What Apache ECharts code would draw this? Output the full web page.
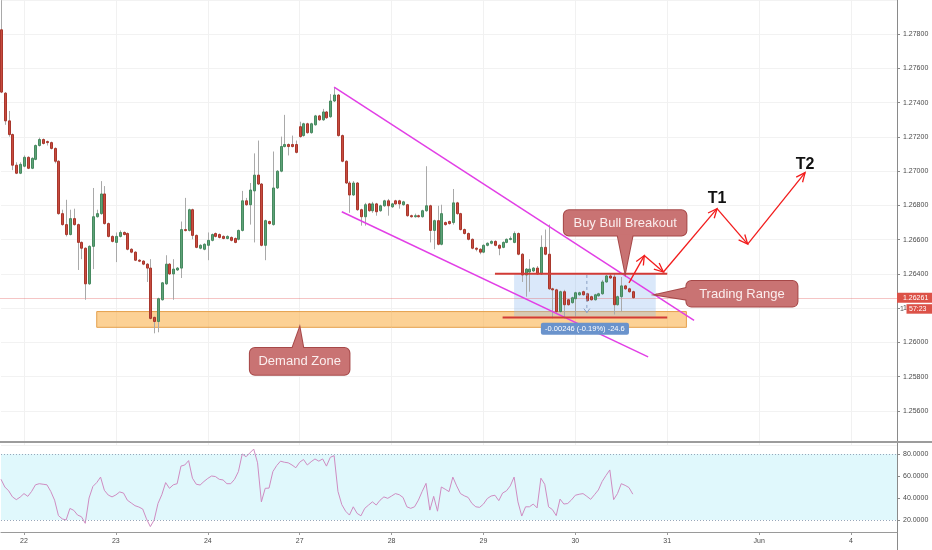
<!DOCTYPE html>
<html><head><meta charset="utf-8">
<script src="https://cdn.jsdelivr.net/npm/echarts@6/dist/echarts.min.js"></script>
<style>html,body{margin:0;padding:0;background:#fff}#c{width:932px;height:550px}</style>
</head><body><div id="c"></div>
<script>
// ---- time axis (hourly slots, incl. future space) ----
const slotCount = 235;
const dayIndex  = [6, 30, 54, 78, 102, 126, 150, 174, 198, 222];
const dayLabels = ['22', '23', '24', '27', '28', '29', '30', '31', 'Jun', '4'];
// ---- hourly candles [open, close, low, high] ----
const ohlc = [
[1.27826,1.27462,1.27456,1.27999],[1.27456,1.27294,1.27271,1.27462],[1.27294,1.27214,1.27202,1.27352],[1.27214,1.27035,1.27006,1.27220],
[1.27035,1.26988,1.26983,1.27052],[1.26988,1.27040,1.26983,1.27052],[1.27029,1.27081,1.27023,1.27092],[1.27081,1.27017,1.27012,1.27087],
[1.27017,1.27075,1.27012,1.27081],[1.27069,1.27150,1.27064,1.27156],[1.27150,1.27185,1.27144,1.27196],[1.27185,1.27162,1.27156,1.27191],
[1.27173,1.27167,1.27150,1.27179],[1.27167,1.27133,1.27127,1.27173],[1.27133,1.27058,1.27046,1.27139],[1.27058,1.26752,1.26746,1.27064],
[1.26752,1.26688,1.26682,1.26775],[1.26688,1.26630,1.26619,1.26833],[1.26630,1.26723,1.26625,1.26775],[1.26723,1.26688,1.26682,1.26781],
[1.26688,1.26584,1.26423,1.26694],[1.26584,1.26550,1.26486,1.26590],[1.26550,1.26342,1.26249,1.26555],[1.26342,1.26561,1.26336,1.26567],
[1.26561,1.26734,1.26428,1.26902],[1.26734,1.26752,1.26729,1.26775],[1.26752,1.26867,1.26746,1.26942],[1.26867,1.26694,1.26688,1.26913],
[1.26694,1.26619,1.26613,1.26700],[1.26619,1.26590,1.26584,1.26625],[1.26584,1.26619,1.26469,1.26642],[1.26619,1.26642,1.26613,1.26654],
[1.26642,1.26630,1.26625,1.26648],[1.26636,1.26544,1.26538,1.26642],[1.26544,1.26527,1.26521,1.26550],[1.26527,1.26480,1.26475,1.26532],
[1.26480,1.26475,1.26469,1.26486],[1.26475,1.26457,1.26451,1.26480],[1.26457,1.26434,1.26353,1.26463],[1.26434,1.26140,1.26134,1.26486],
[1.26146,1.26122,1.26053,1.26151],[1.26122,1.26255,1.26059,1.26261],[1.26249,1.26348,1.26244,1.26353],[1.26342,1.26457,1.26336,1.26509],
[1.26457,1.26400,1.26394,1.26463],[1.26400,1.26428,1.26249,1.26486],[1.26423,1.26434,1.26417,1.26440],[1.26434,1.26659,1.26376,1.26706],
[1.26659,1.26654,1.26648,1.26844],[1.26654,1.26775,1.26648,1.26781],[1.26775,1.26625,1.26602,1.26781],[1.26625,1.26555,1.26550,1.26630],
[1.26550,1.26567,1.26544,1.26573],[1.26544,1.26573,1.26538,1.26579],[1.26567,1.26596,1.26480,1.26642],[1.26596,1.26630,1.26590,1.26636],
[1.26636,1.26619,1.26613,1.26642],[1.26630,1.26613,1.26607,1.26636],[1.26619,1.26607,1.26602,1.26625],[1.26607,1.26619,1.26602,1.26625],
[1.26613,1.26596,1.26590,1.26619],[1.26607,1.26584,1.26579,1.26613],[1.26602,1.26654,1.26596,1.26659],[1.26654,1.26827,1.26648,1.26885],
[1.26827,1.26804,1.26798,1.26844],[1.26804,1.26890,1.26688,1.26931],[1.26885,1.26977,1.26584,1.27104],[1.26977,1.26925,1.26919,1.27179],
[1.26925,1.26567,1.26561,1.26931],[1.26567,1.26711,1.26480,1.26717],[1.26706,1.26694,1.26688,1.26711],[1.26688,1.26902,1.26682,1.27115],
[1.26902,1.27000,1.26896,1.27006],[1.27000,1.27144,1.26994,1.27202],[1.27144,1.27156,1.27139,1.27329],[1.27156,1.27144,1.27092,1.27162],
[1.27156,1.27144,1.27139,1.27208],[1.27156,1.27110,1.27104,1.27179],[1.27260,1.27202,1.27196,1.27289],[1.27208,1.27277,1.27202,1.27283],
[1.27277,1.27225,1.27219,1.27283],[1.27225,1.27277,1.27219,1.27283],[1.27271,1.27323,1.27266,1.27329],[1.27323,1.27300,1.27294,1.27329],
[1.27300,1.27346,1.27294,1.27364],[1.27346,1.27312,1.27306,1.27352],[1.27318,1.27410,1.27312,1.27450],[1.27410,1.27445,1.27404,1.27491],
[1.27445,1.27208,1.27202,1.27450],[1.27208,1.27058,1.27052,1.27214],[1.27058,1.26931,1.26925,1.27064],[1.26931,1.26861,1.26757,1.26942],
[1.26861,1.26931,1.26856,1.26942],[1.26931,1.26775,1.26769,1.26937],[1.26775,1.26734,1.26682,1.26781],[1.26734,1.26804,1.26682,1.26815],
[1.26809,1.26769,1.26763,1.26815],[1.26769,1.26809,1.26757,1.26821],[1.26809,1.26763,1.26740,1.26815],[1.26769,1.26798,1.26763,1.26804],
[1.26798,1.26827,1.26792,1.26833],[1.26827,1.26798,1.26740,1.26838],[1.26792,1.26809,1.26786,1.26815],[1.26827,1.26809,1.26804,1.26833],
[1.26827,1.26809,1.26781,1.26833],[1.26804,1.26821,1.26798,1.26827],[1.26804,1.26740,1.26734,1.26809],[1.26740,1.26734,1.26729,1.26746],
[1.26734,1.26740,1.26729,1.26752],[1.26740,1.26734,1.26729,1.26746],[1.26734,1.26769,1.26729,1.26775],[1.26769,1.26798,1.26763,1.27029],
[1.26798,1.26654,1.26584,1.26804],[1.26654,1.26711,1.26544,1.26717],[1.26711,1.26573,1.26567,1.26798],[1.26573,1.26752,1.26567,1.26804],
[1.26700,1.26688,1.26682,1.26706],[1.26706,1.26694,1.26688,1.26711],[1.26700,1.26815,1.26688,1.26896],[1.26815,1.26752,1.26746,1.26821],
[1.26752,1.26659,1.26654,1.26757],[1.26659,1.26636,1.26630,1.26665],[1.26636,1.26602,1.26596,1.26642],[1.26602,1.26550,1.26544,1.26607],
[1.26550,1.26544,1.26532,1.26555],[1.26544,1.26527,1.26515,1.26550],[1.26527,1.26567,1.26521,1.26573],[1.26567,1.26579,1.26561,1.26584],
[1.26579,1.26590,1.26573,1.26596],[1.26590,1.26567,1.26561,1.26596],[1.26567,1.26550,1.26509,1.26573],[1.26555,1.26584,1.26550,1.26590],
[1.26584,1.26602,1.26579,1.26607],[1.26602,1.26607,1.26596,1.26619],[1.26584,1.26636,1.26579,1.26648],[1.26636,1.26515,1.26509,1.26642],
[1.26515,1.26394,1.26353,1.26521],[1.26394,1.26428,1.26267,1.26434],[1.26411,1.26428,1.26296,1.26486],[1.26417,1.26434,1.26411,1.26440],
[1.26434,1.26400,1.26394,1.26446],[1.26400,1.26555,1.26394,1.26625],[1.26555,1.26515,1.26509,1.26659],[1.26515,1.26313,1.26307,1.26688],
[1.26313,1.26307,1.26140,1.26319],[1.26307,1.26180,1.26169,1.26313],[1.26180,1.26296,1.26174,1.26302],[1.26296,1.26220,1.26140,1.26307],
[1.26249,1.26220,1.26215,1.26255],[1.26232,1.26261,1.26226,1.26267],[1.26255,1.26290,1.26151,1.26296],[1.26278,1.26290,1.26273,1.26296],
[1.26296,1.26278,1.26273,1.26302],[1.26284,1.26244,1.26238,1.26290],[1.26267,1.26249,1.26244,1.26273],[1.26249,1.26278,1.26244,1.26284],
[1.26272,1.26284,1.26267,1.26290],[1.26284,1.26353,1.26278,1.26365],[1.26353,1.26388,1.26348,1.26394],[1.26388,1.26376,1.26370,1.26400],
[1.26382,1.26220,1.26163,1.26400],[1.26220,1.26267,1.26215,1.26273],[1.26267,1.26330,1.26180,1.26382],[1.26330,1.26313,1.26307,1.26336],
[1.26313,1.26296,1.26290,1.26319],[1.26296,1.26261,1.26255,1.26302]
];
// ---- RSI per candle ----
const rsi = [57,50,46.5,41,38.5,40.8,44,41.5,46,52,53,52.5,52,46,38,24,21,20,30.5,28.8,
24.5,23,17,40,50.5,54,59,47,42.7,41,42.8,45.5,44.5,38,35.5,33,31.8,30,21,14,
20,35,43,54,48.8,52,53,69,70,74,58,52.5,51.8,55,57.8,60,59.5,57,56.4,53,
53,57,64,80,77.5,81,84.5,72,36.5,48.8,49,64,69.5,73.5,72.5,72,70,67.5,72.5,75,
70,73,75.5,73.5,75.5,69,77,78.5,46,34,28,24.5,32,26,23.8,30.6,33.6,36.5,33.6,38,
41,39.7,41.8,44,43,40.5,32,30.6,32,38,46,53.3,29,41.5,28,50,48,45.8,59,51,
44,42,40.5,35,32,31.5,34.5,39.5,41.8,42.5,37.6,44.5,46.5,51,59,36.5,23.6,32,32,34.5,
31,58,52.5,32,29.5,24,39,34.5,35,38.3,42.5,43.4,44,41.5,38.8,43,47.3,55,60.5,65.5,
38.5,44,53,51.5,49.5,43.5];
const rsiLevels = [20, 40, 60, 80];
// ---- drawings (slot index, price) ----
const demandZone   = [24.8, 1.26180, 179.4, 1.26088];
const rangeBox     = [134.0, 1.26400, 171.1, 1.26151];
const channelUpper = [[86.7, 1.27491], [180.7, 1.26128]];
const channelLower = [[89.0, 1.26763], [169.0, 1.25915]];
const rangeTop     = [[129.0, 1.26401], [173.9, 1.26401]];
const rangeBottom  = [[131.0, 1.26145], [173.9, 1.26145]];
const pathArrows   = [[163.6, 1.26348], [167.7, 1.26507], [173.4, 1.26411], [186.9, 1.26781], [194.7, 1.26574], [209.9, 1.26992]];
const targetNames  = ['T1', 'T2'];
const targetPoints = [[186.7, 1.26838], [210.0, 1.27040]];
const calloutTexts = ['Buy Bull Breakout', 'Trading Range', 'Demand Zone'];
const calloutBoxes = [[146.8, 1.26772, 179.2, 1.26625], [179.4, 1.26359, 207.9, 1.26209], [64.5, 1.25967, 91.1, 1.25811]];
const calloutTips  = [[163.1, 1.26408], [171.3, 1.26278], [77.7, 1.26085]];
const calloutBases = [[161.4, 164.5], [1.26319, 1.26249], [76.0, 79.4]];
const calloutSides = ['bottom', 'left', 'top'];
const measureText  = '-0.00246 (-0.19%) -24.6';
const measureBox   = [140.8, 1.26114, 164.3, 1.26044];
const measureLine  = [[152.5, 1.26394], [152.5, 1.26174]];
const lastPrice = 1.26261;
const countdown = '57:23';

const categories = [];
for (let i = 0; i < slotCount; i++) categories.push(String(i));
const labelAt = {};
dayIndex.forEach((k, j) => { labelAt[k] = dayLabels[j]; });
const isDay = (idx) => labelAt[idx] !== undefined;
const FONT = 'Liberation Sans';

const chart = echarts.init(document.getElementById('c'));

function renderCandle(params, api) {
  const i = api.value(0), o = api.value(1), c = api.value(2), l = api.value(3), h = api.value(4);
  const pO = api.coord([i, o]), pC = api.coord([i, c]), pL = api.coord([i, l]), pH = api.coord([i, h]);
  const x = Math.round(pO[0]);
  const up = c >= o;
  const top = Math.min(pO[1], pC[1]), bot = Math.max(pO[1], pC[1]);
  return { type: 'group', children: [
    { type: 'line', shape: { x1: x + 0.5, y1: pH[1], x2: x + 0.5, y2: pL[1] }, style: { stroke: '#a9a9a9', lineWidth: 1 } },
    { type: 'rect', shape: { x: x - 0.5, y: top, width: 2, height: Math.max(bot - top, 1) },
      style: { fill: up ? '#5ea277' : '#c84b3f', stroke: up ? '#468a60' : '#a8372c', lineWidth: 1 } }
  ]};
}

function arrowHead(p, q, color) {
  const a = Math.atan2(q[1] - p[1], q[0] - p[0]);
  const L = 10, s = 0.42;
  return { type: 'polyline', shape: { points: [
    [q[0] - L * Math.cos(a - s), q[1] - L * Math.sin(a - s)], q,
    [q[0] - L * Math.cos(a + s), q[1] - L * Math.sin(a + s)] ] },
    style: { stroke: color, lineWidth: 1.3, fill: null } };
}

function renderBackground(params, api) {
  const ch = [];
  const z1 = api.coord([demandZone[0], demandZone[1]]), z2 = api.coord([demandZone[2], demandZone[3]]);
  ch.push({ type: 'rect', shape: { x: z1[0], y: z1[1], width: z2[0] - z1[0], height: z2[1] - z1[1] },
    style: { fill: 'rgba(250,172,62,0.55)', stroke: '#e5a04c', lineWidth: 1 } });
  const r1 = api.coord([rangeBox[0], rangeBox[1]]), r2 = api.coord([rangeBox[2], rangeBox[3]]);
  ch.push({ type: 'rect', shape: { x: r1[0], y: r1[1], width: r2[0] - r1[0], height: r2[1] - r1[1] },
    style: { fill: 'rgba(140,185,240,0.32)' } });
  const lp0 = api.coord([0, lastPrice]), lp1 = api.coord([slotCount - 1, lastPrice]);
  ch.push({ type: 'line', shape: { x1: 0, y1: Math.round(lp0[1]) + 0.5, x2: lp1[0], y2: Math.round(lp0[1]) + 0.5 },
    style: { stroke: 'rgba(225,90,90,0.35)', lineWidth: 1 } });
  return { type: 'group', children: ch };
}

function renderCallout(k, api, ch) {
  const b = calloutBoxes[k];
  const a1 = api.coord([b[0], b[1]]), a2 = api.coord([b[2], b[3]]);
  const x = a1[0], y = a1[1], w = a2[0] - a1[0], h = a2[1] - a1[1];
  const tip = api.coord(calloutTips[k]);
  const base = calloutBases[k];
  let tail;
  if (calloutSides[k] === 'bottom') {
    const l = api.coord([base[0], b[3]]), r = api.coord([base[1], b[3]]);
    tail = [[l[0], y + h - 1], tip, [r[0], y + h - 1]];
  } else if (calloutSides[k] === 'top') {
    const l = api.coord([base[0], b[1]]), r = api.coord([base[1], b[1]]);
    tail = [[l[0], y + 1], tip, [r[0], y + 1]];
  } else {
    const t = api.coord([b[0], base[0]]), bt = api.coord([b[0], base[1]]);
    tail = [[x + 1, t[1]], tip, [x + 1, bt[1]]];
  }
  const fill = '#c97373', stroke = '#a64848';
  ch.push({ type: 'rect', shape: { x, y, width: w, height: h, r: 5 }, style: { fill: stroke, stroke, lineWidth: 2 } });
  ch.push({ type: 'polygon', shape: { points: tail }, style: { fill: stroke, stroke, lineWidth: 2 } });
  ch.push({ type: 'rect', shape: { x, y, width: w, height: h, r: 5 }, style: { fill } });
  ch.push({ type: 'polygon', shape: { points: tail }, style: { fill } });
  ch.push({ type: 'text', style: { text: calloutTexts[k], x: x + w / 2, y: y + h / 2 + 0.5, fill: '#fbeeee',
    fontSize: 13, fontFamily: FONT, align: 'center', verticalAlign: 'middle' } });
}

function renderForeground(params, api) {
  const ch = [];
  const seg = (pts, color, width, dash) => ch.push({ type: 'polyline',
    shape: { points: pts.map(p => api.coord(p)) }, style: { stroke: color, lineWidth: width, fill: null, lineDash: dash || null } });
  seg(channelUpper, '#e23fe6', 1.5);
  seg(channelLower, '#e23fe6', 1.5);
  seg(rangeTop, '#d23b36', 2);
  seg(rangeBottom, '#d23b36', 2);
  // measure dashed arrow
  const m0 = api.coord(measureLine[0]), m1 = api.coord(measureLine[1]);
  ch.push({ type: 'line', shape: { x1: m0[0], y1: m0[1], x2: m1[0], y2: m1[1] }, style: { stroke: '#8aa0c4', lineWidth: 1, lineDash: [3, 3] } });
  ch.push({ type: 'polyline', shape: { points: [[m1[0] - 3, m1[1] - 4], m1, [m1[0] + 3, m1[1] - 4]] }, style: { stroke: '#8aa0c4', lineWidth: 1, fill: null } });
  // measure label
  const q1 = api.coord([measureBox[0], measureBox[1]]), q2 = api.coord([measureBox[2], measureBox[3]]);
  ch.push({ type: 'rect', shape: { x: q1[0], y: q1[1], width: q2[0] - q1[0], height: q2[1] - q1[1], r: 2 }, style: { fill: '#6a93cc' } });
  ch.push({ type: 'text', style: { text: measureText, x: (q1[0] + q2[0]) / 2, y: (q1[1] + q2[1]) / 2 + 0.5, fill: '#ffffff',
    fontSize: 7.5, fontFamily: FONT, align: 'center', verticalAlign: 'middle' } });
  // red path arrows
  const pp = pathArrows.map(p => api.coord(p));
  for (let s = 0; s < pp.length - 1; s++) {
    ch.push({ type: 'line', shape: { x1: pp[s][0], y1: pp[s][1], x2: pp[s + 1][0], y2: pp[s + 1][1] }, style: { stroke: '#f21c1c', lineWidth: 1.3 } });
    ch.push(arrowHead(pp[s], pp[s + 1], '#f21c1c'));
  }
  targetNames.forEach((t, k) => {
    const p = api.coord(targetPoints[k]);
    ch.push({ type: 'text', style: { text: t, x: p[0], y: p[1], fill: '#111111', fontSize: 16, fontWeight: 'bold',
      fontFamily: FONT, align: 'center', verticalAlign: 'middle' } });
  });
  for (let k = 0; k < calloutTexts.length; k++) renderCallout(k, api, ch);
  // last price label on the price scale
  const lp = api.coord([slotCount - 1, lastPrice]);
  const ax = lp[0], py = lp[1];
  ch.push({ type: 'text', style: { text: '1', x: ax + 3, y: py + 11.5, fill: '#555', fontSize: 7, fontFamily: FONT, verticalAlign: 'middle' } });
  ch.push({ type: 'rect', shape: { x: ax, y: py - 5, width: 35, height: 10 }, style: { fill: '#dc5248' } });
  ch.push({ type: 'text', style: { text: lastPrice.toFixed(5), x: ax + 6, y: py + 0.2, fill: '#ffffff', fontSize: 7, fontFamily: FONT, verticalAlign: 'middle' } });
  ch.push({ type: 'rect', shape: { x: ax + 9.5, y: py + 6.5, width: 25.5, height: 9.5 }, style: { fill: '#dc5248' } });
  ch.push({ type: 'text', style: { text: countdown, x: ax + 12, y: py + 11.5, fill: '#ffffff', fontSize: 7, fontFamily: FONT, verticalAlign: 'middle' } });
  return { type: 'group', children: ch };
}

const option = {
  animation: false,
  backgroundColor: '#ffffff',
  textStyle: { fontFamily: FONT },
  grid: [
    { left: 1, right: 35, top: -5.2, height: 450.3 },
    { left: 1, right: 35, top: 443, height: 89 }
  ],
  xAxis: [
    { type: 'category', gridIndex: 0, data: categories, boundaryGap: false,
      axisLine: { show: false }, axisTick: { show: false }, axisLabel: { show: false },
      splitLine: { show: true, interval: (i) => isDay(i), lineStyle: { color: '#f1f1f1' } } },
    { type: 'category', gridIndex: 1, data: categories, boundaryGap: false,
      axisLine: { show: true, lineStyle: { color: '#9a9a9a' } },
      axisTick: { show: true, interval: (i) => isDay(i), length: 3, lineStyle: { color: '#9a9a9a' } },
      axisLabel: { interval: (i) => isDay(i), formatter: (v, i) => labelAt[i] || '', fontSize: 7, color: '#4a4a4a', margin: 6 },
      splitLine: { show: false } }
  ],
  yAxis: [
    { type: 'value', gridIndex: 0, position: 'right', min: 1.254, max: 1.280, interval: 0.002, scale: true,
      axisLine: { show: true, lineStyle: { color: '#8a8a8a' } },
      axisTick: { show: true, length: 3, lineStyle: { color: '#8a8a8a' } },
      axisLabel: { formatter: (v) => v.toFixed(5), fontSize: 7, color: '#4a4a4a', margin: 6, showMinLabel: false, showMaxLabel: false },
      splitLine: { show: true, lineStyle: { color: '#f2f2f2' } } },
    { type: 'value', gridIndex: 1, position: 'right', min: 9.09, max: 90,
      axisLine: { show: true, lineStyle: { color: '#8a8a8a' } },
      axisTick: { show: true, length: 3, customValues: rsiLevels, lineStyle: { color: '#8a8a8a' } },
      axisLabel: { customValues: rsiLevels, formatter: (v) => v.toFixed(4), fontSize: 7, color: '#4a4a4a', margin: 6 },
      splitLine: { show: false } }
  ],
  series: [
    { type: 'custom', name: 'zones', xAxisIndex: 0, yAxisIndex: 0, z: 1, clip: false,
      renderItem: renderBackground, data: [[0, 1.27]], silent: true },
    { type: 'custom', name: 'GBPUSD 1h', xAxisIndex: 0, yAxisIndex: 0, z: 2, clip: false,
      renderItem: renderCandle, encode: { x: 0, y: [1, 2, 3, 4] },
      data: ohlc.map((d, i) => [i, d[0], d[1], d[2], d[3]]) },
    { type: 'custom', name: 'drawings', xAxisIndex: 0, yAxisIndex: 0, z: 3, clip: false,
      renderItem: renderForeground, data: [[0, 1.27]], silent: true },
    { type: 'line', name: 'RSI', xAxisIndex: 1, yAxisIndex: 1, data: rsi, symbol: 'none',
      lineStyle: { color: '#cf8cc2', width: 1 }, z: 3,
      markArea: { silent: true, itemStyle: { color: '#e0f8fc' }, data: [[{ yAxis: 20 }, { yAxis: 80 }]] },
      markLine: { silent: true, symbol: 'none', label: { show: false },
        lineStyle: { type: [1, 2], color: '#98a7ba', width: 1 }, data: [{ yAxis: 20 }, { yAxis: 80 }] } }
  ],
  graphic: [
    { type: 'rect', shape: { x: 0, y: 441, width: 932, height: 2 }, style: { fill: '#9c9c9c' }, z: 10 },
    { type: 'line', shape: { x1: 897.5, y1: 532, x2: 897.5, y2: 550 }, style: { stroke: '#8a8a8a', lineWidth: 1 } }
  ]
};
chart.setOption(option);
</script>
</body></html>
